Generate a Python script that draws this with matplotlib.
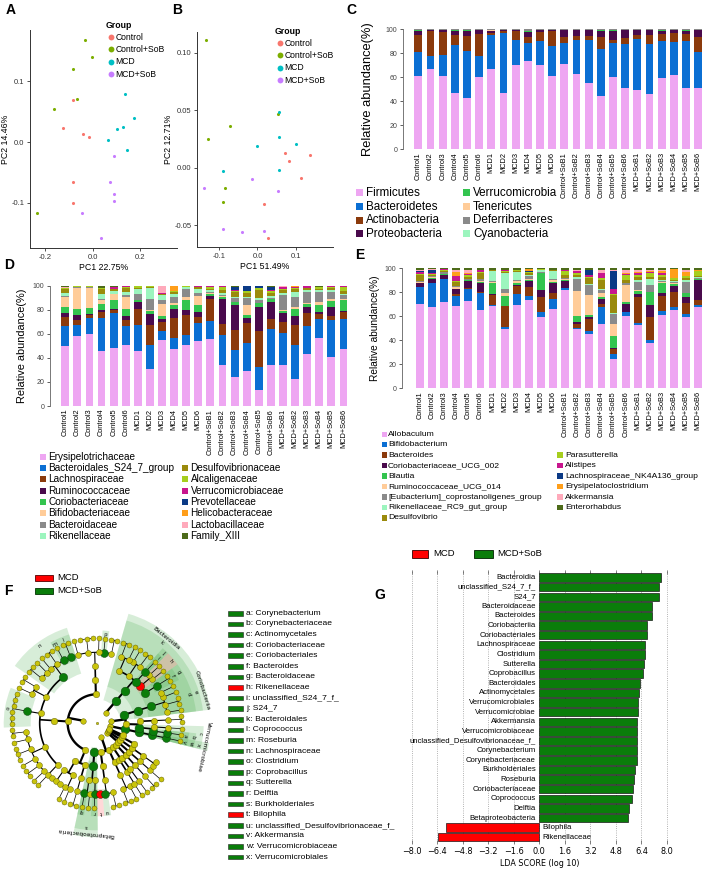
import numpy as np
import matplotlib.pyplot as plt
from matplotlib.patches import Rectangle, Wedge
from matplotlib.lines import Line2D

W, H = 708, 871
plt.rcParams['font.family'] = ['Liberation Sans', 'DejaVu Sans']

# ---------------- data ----------------
group_names = ["Control", "Control+SoB", "MCD", "MCD+SoB"]
group_colors = ["#F8766D", "#7CAE00", "#00BFC4", "#C77CFF"]

# PCoA panel A (unweighted)
a_control_x = [-0.084, -0.125, -0.041, -0.018, -0.084, -0.084]
a_control_y = [0.069, 0.023, 0.013, 0.008, -0.066, -0.100]
a_ctrlsob_x = [-0.032, -0.004, -0.083, -0.069, -0.166, -0.237]
a_ctrlsob_y = [0.167, 0.139, 0.120, 0.070, 0.054, -0.117]
a_mcd_x = [0.136, 0.175, 0.126, 0.101, 0.065, 0.143]
a_mcd_y = [0.079, 0.040, 0.025, 0.022, 0.003, -0.013]
a_mcdsob_x = [0.090, 0.072, 0.090, 0.087, -0.048, 0.035]
a_mcdsob_y = [-0.023, -0.066, -0.086, -0.097, -0.116, -0.158]

# PCoA panel B (weighted)
b_control_x = [0.017, 0.028, 0.072, 0.083, 0.136, 0.113]
b_control_y = [-0.032, -0.061, 0.0125, 0.006, 0.011, -0.009]
b_ctrlsob_x = [-0.133, -0.071, -0.128, -0.085, -0.089, 0.054]
b_ctrlsob_y = [0.111, 0.036, 0.025, -0.018, -0.030, 0.047]
b_mcd_x = [-0.089, -0.002, 0.056, 0.056, 0.057, 0.100]
b_mcd_y = [-0.003, 0.019, 0.048, 0.027, -0.002, 0.021]
b_mcdsob_x = [-0.139, -0.013, 0.054, -0.089, -0.040, 0.017]
b_mcdsob_y = [-0.018, -0.010, -0.020, -0.053, -0.056, -0.055]

samples = (["Control%d" % i for i in range(1, 7)] + ["MCD%d" % i for i in range(1, 7)]
           + ["Control+SoB%d" % i for i in range(1, 7)] + ["MCD+SoB%d" % i for i in range(1, 7)])

palette = ["#EEA6F2", "#0B6FD3", "#8B3A0C", "#4A0A4C", "#33C44F", "#FFCC99", "#8A8A8A",
           "#9CF5BE", "#9A8A0C", "#A6CE1E", "#C8168E", "#0B3A86", "#FF9E1A", "#FFAABB", "#4D6B1A"]

# Panel C: phylum level
phyla = ["Firmicutes", "Bacteroidetes", "Actinobacteria", "Proteobacteria",
         "Verrucomicrobia", "Tenericutes", "Deferribacteres", "Cyanobacteria"]
firmicutes = [61, 67, 61, 47, 43, 60, 67, 47, 70, 74, 70, 61, 71, 63, 56, 44, 60, 51, 49, 46, 59, 62, 51, 51]
bacteroidetes = [20, 11, 18, 40, 39, 18, 28, 50, 21, 15, 20, 25, 18, 28, 36, 39, 28, 37, 43, 42, 31, 28, 39, 30]
actinobacteria = [14, 21, 19, 8, 12, 18, 2, 1.5, 8, 5.5, 8, 13, 5, 3, 3, 9.5, 3, 5, 3, 7, 5, 7.5, 5.5, 12.5]
proteobacteria = [4, 1, 1.5, 4, 4, 3.5, 1.5, 1, 0.6, 4, 1.5, 0.6, 5.5, 5.5, 5, 5, 7.5, 6, 4, 4.5, 2.5, 2, 2.5, 6]
verrucomicrobia = [0.8, 0.3, 0.3, 0.8, 1.5, 0.3, 0.3, 0.2, 0.2, 0.3, 0.2, 0.2, 0.3, 0.2, 0.5, 1.2, 1, 0.6, 0.5, 0.3, 1.5, 0.5, 1.2, 0.3]
tenericutes = [0.1, 0.1, 0.1, 0.1, 0.1, 0.1, 1.0, 0.1, 0.1, 0.2, 0.1, 0.1, 0.1, 0.1, 0.1, 0.1, 0.1, 0.1, 0.1, 0.1, 0.1, 0.1, 0.1, 0.1]
deferribacteres = [0.1, 0.1, 0.1, 0.1, 0.1, 0.1, 0.1, 0.1, 0.1, 1.5, 0.1, 0.1, 0.1, 0.1, 0.1, 0.1, 0.1, 0.1, 0.1, 0.1, 0.1, 0.1, 0.1, 0.1]
cyanobacteria = [0.1] * 24
phylum_colors = ["#EEA6F2", "#0B6FD3", "#8B3A0C", "#4A0A4C", "#33C44F", "#FFCC99", "#8A8A8A", "#9CF5BE"]

# Panel D: family level
families = ["Erysipelotrichaceae", "Bacteroidales_S24_7_group", "Lachnospiraceae", "Ruminococcaceae",
            "Coriobacteriaceae", "Bifidobacteriaceae", "Bacteroidaceae", "Rikenellaceae",
            "Desulfovibrionaceae", "Alcaligenaceae", "Verrucomicrobiaceae", "Prevotellaceae",
            "Helicobacteraceae", "Lactobacillaceae", "Family_XIII"]
erysipelotrichaceae = [50, 58.5, 60, 46, 48, 51, 46, 31, 55, 47.5, 51, 53.5, 56, 34, 24, 29, 13.3, 34, 34, 22.4, 43, 57, 41, 47.4]
s24_7_group = [16.5, 9.5, 13, 27, 29, 15.5, 21.5, 20, 8, 9.5, 8.5, 15.5, 15.5, 25, 23, 23.5, 19.4, 30.5, 27, 28.3, 23.5, 15.6, 30.5, 25.6]
lachnospiraceae = [7.5, 4, 2.5, 5, 3, 5, 13.5, 17, 7, 16, 16.5, 5, 18, 9, 16, 16.5, 30.3, 8.5, 9, 16.6, 11, 4.4, 3.3, 5.4]
ruminococcaceae = [3, 4, 1.5, 2, 1, 3.5, 5.5, 9, 3, 8, 4.5, 3.5, 2.5, 21, 21, 4, 20, 13.7, 7.6, 7.7, 5, 1.4, 8.2, 1.1]
coriobacteriaceae = [5, 5.5, 5, 5, 7, 6, 1.5, 2, 2.5, 3, 8, 6.5, 2, 2, 2.7, 3, 3.7, 2.8, 2.2, 6, 2.5, 5.6, 5, 9.1]
bifidobacteriaceae = [9, 17.5, 16.5, 3, 5, 10, 0.5, 1, 9.5, 2, 3, 7.5, 0.3, 0.3, 0.3, 8, 0.3, 0.3, 0.3, 1.5, 1, 2.7, 1, 1]
bacteroidaceae = [0.5, 0.3, 0.3, 1, 0.5, 1.5, 5, 9, 3.5, 5, 6.5, 2.5, 1, 1.5, 2.8, 6, 2.5, 0.5, 13, 8.5, 9, 8.3, 6, 3]
rikenellaceae = [2.5, 0.3, 0.3, 4, 2, 2, 4, 9.5, 4.5, 2.5, 1.5, 3, 1.5, 1, 1, 1, 1.5, 1.5, 1, 4, 1.5, 1.5, 2, 1]
desulfovibrionaceae = [3, 0.3, 0.4, 4, 1.5, 3.5, 1, 0.5, 0.5, 1.5, 0.5, 1.5, 1.5, 3, 4, 3, 7, 3, 2.5, 2, 1.5, 1.5, 1.5, 2]
alcaligenaceae = [1, 0.3, 0.3, 1, 0.5, 1, 1, 1, 0.3, 1, 0.3, 0.5, 1.5, 2.5, 1, 1.5, 1, 1.5, 1.5, 1.5, 0.5, 1, 1, 4]
verrucomicrobiaceae = [0.5, 0.2, 0.2, 0.5, 1.5, 0.5, 0.2, 0.2, 0.2, 0.2, 0.2, 0.2, 0.5, 0.5, 0.5, 0.5, 0.2, 0.2, 1, 0.5, 1, 0.5, 0.5, 0.3]
prevotellaceae = [0, 0, 0, 0, 0, 0, 0, 0, 0, 0, 0, 0, 0, 0, 3, 3.5, 1.5, 3, 0.5, 0, 0, 0, 0, 0]
helicobacteraceae = [0, 0, 0, 0, 0, 0, 0, 0, 0, 3.5, 0, 0, 0, 0, 0, 0, 0, 0, 0, 0.5, 0, 0, 0, 0]
lactobacillaceae = [0.5, 0, 0, 0, 0, 0, 0, 0, 6, 0, 0, 0, 0, 0, 0, 0, 0, 0, 0.5, 0, 0, 0, 0, 0]
family_xiii = [1, 0.2, 0.3, 1.5, 1, 0.5, 0.3, 0.3, 0.5, 0.5, 0.3, 0.5, 0.5, 0.5, 1, 0.5, 0.5, 1, 0.5, 0.5, 0.5, 1, 0.5, 0.5]

# Panel E: genus level
genera = ["Allobaculum", "Bifidobacterium", "Bacteroides", "Coriobacteriaceae_UCG_002", "Blautia",
          "Ruminococcaceae_UCG_014", "[Eubacterium]_coprostanoligenes_group", "Rikenellaceae_RC9_gut_group",
          "Desulfovibrio", "Parasutterella", "Alistipes", "Lachnospiraceae_NK4A136_group",
          "Erysipelatoclostridium", "Akkermansia", "Enterorhabdus"]
allobaculum = [71, 68, 72, 68, 72, 65.3, 68.6, 49.2, 68.6, 73.6, 59.7, 65.3, 80, 48.6, 44.4, 51.4, 24.4, 59.7, 52.2, 37.5, 61, 65.3, 59.7, 67.2]
bifidobacterium = [14, 19.5, 19, 8.4, 9.4, 14.4, 0.8, 1.6, 9.2, 3.4, 3.9, 8.3, 1.4, 1.4, 2.8, 13.9, 3.4, 2.8, 1.1, 2.2, 3.7, 2.7, 2.3, 2.2]
bacteroides = [0.5, 0.5, 0.3, 1.4, 0.6, 0.8, 8.4, 17.2, 6.9, 7.7, 12.8, 5, 0.6, 2.8, 9.8, 2.7, 4.2, 0.6, 21.7, 18.6, 11.7, 12.5, 8.8, 4.2]
corio_ucg_002 = [3, 3.5, 3.5, 4, 6, 7, 1, 0.5, 0.6, 5, 5.6, 8.4, 5.5, 1.9, 1.3, 4, 1.3, 6.3, 2.8, 9.7, 2.6, 5.5, 5.6, 16.7]
blautia = [0.5, 0.5, 0.5, 0.5, 0.5, 1, 8.7, 7.9, 2.2, 1, 13.9, 1, 0.5, 5, 1.4, 1.5, 9.7, 1.6, 2.2, 10.6, 8.5, 1.4, 2.6, 0.5]
rumino_ucg_014 = [0.5, 0.5, 0.5, 1, 0.5, 1, 1.5, 2.6, 1.5, 1, 0.5, 1, 1, 20.8, 16.7, 3, 9.8, 13.7, 0.5, 0.5, 0.5, 0.5, 0.5, 0.5]
eubacterium_group = [1, 1, 1, 1, 1, 1.5, 0.5, 3, 0.5, 2.3, 0.5, 1, 0.5, 9.8, 7.6, 2.6, 8.2, 1.5, 7, 5.6, 1.5, 1, 9.4, 0.5]
rc9_gut_group = [0, 0, 0, 0, 0, 0.5, 8.5, 13.8, 6.8, 1, 1.5, 6.5, 0.5, 1, 1, 0.5, 0.5, 0, 1.5, 5, 0.5, 0.5, 1.5, 0.5]
desulfovibrio = [5, 1, 1.5, 3.7, 1, 4.5, 0.5, 0.5, 1, 1.5, 0.5, 1, 2.5, 2, 5, 7.5, 15, 3, 2.5, 1.5, 2.8, 1.5, 1.5, 1.5]
parasutterella = [1, 1, 0.5, 0.5, 2, 1, 0.5, 0.5, 0.5, 0.5, 0.5, 0.5, 3.5, 1.5, 0.5, 2, 0.5, 4, 1.5, 3.2, 1.5, 1, 1.5, 3.5]
alistipes = [1.5, 0.5, 0.5, 4.5, 1, 1.5, 0, 1.5, 0, 0.5, 0, 0, 0.5, 1.5, 2, 3.5, 4, 1, 1.5, 1, 2, 0, 0.5, 0.5]
nk4a136_group = [0.5, 3, 0.5, 0, 0, 0, 0, 0, 0.5, 1, 0, 0, 0.3, 0.5, 4, 0, 15.3, 0, 0, 0, 0, 0, 0, 0]
erysipelatoclostridium = [0.5, 0, 0, 3, 0.5, 0, 0, 0, 0, 1, 0, 0, 0, 0, 0, 0, 0, 1, 1, 1, 1, 7.5, 3, 0.5]
akkermansia = [0.5, 0.5, 0, 1.5, 2.5, 0, 0, 0, 0, 0, 0, 0, 0, 1, 0.5, 3, 1, 2.5, 2, 1, 1.5, 0.5, 2, 0.5]
enterorhabdus = [1.5, 0.5, 0.5, 1.5, 1.5, 1.5, 1, 1, 1, 1, 0.5, 1, 1, 1, 1, 1, 1, 1, 1, 1, 1, 0.5, 1, 1]

# Panel F/G: LEfSe
lefse_letters = list("abcdefghijklmnopqrstuvwx")
lefse_taxa = ["Corynebacterium", "Corynebacteriaceae", "Actinomycetales", "Coriobacteriaceae",
              "Coriobacteriales", "Bacteroides", "Bacteroidaceae", "Rikenellaceae", "unclassified_S24_7_f_",
              "S24_7", "Bacteroidales", "Coprococcus", "Roseburia", "Lachnospiraceae", "Clostridium",
              "Coprobacillus", "Sutterella", "Delftia", "Burkholderiales", "Bilophila",
              "unclassified_Desulfovibrionaceae_f_", "Akkermansia", "Verrucomicrobiaceae", "Verrucomicrobiales"]
mcd_taxa = ["Rikenellaceae", "Bilophila"]
class_taxa = ["Verrucomicrobiae", "Coriobacteriia", "Bacteroidia", "Betaproteobacteria"]

lda_taxa = ["Bacteroidia", "unclassified_S24_7_f_", "S24_7", "Bacteroidaceae", "Bacteroides",
            "Coriobacteriia", "Coriobacteriales", "Lachnospiraceae", "Clostridium", "Sutterella",
            "Coprobacillus", "Bacteroidales", "Actinomycetales", "Verrucomicrobiales", "Verrucomicrobiae",
            "Akkermansia", "Verrucomicrobiaceae", "unclassified_Desulfovibrionaceae_f_", "Corynebacterium",
            "Corynebacteriaceae", "Burkholderiales", "Roseburia", "Coriobacteriaceae", "Coprococcus",
            "Delftia", "Betaproteobacteria", "Bilophila", "Rikenellaceae"]
lda_scores = [7.6, 7.52, 7.52, 7.05, 7.05, 6.73, 6.73, 6.65, 6.63, 6.56, 6.52, 6.33, 6.27, 6.17, 6.17,
              6.15, 6.14, 6.14, 6.10, 6.10, 6.02, 5.96, 5.85, 5.83, 5.60, 5.56, -5.85, -6.37]
lda_ticks = [-8.0, -6.4, -4.8, -3.2, -1.6, 0.0, 1.6, 3.2, 4.8, 6.4, 8.0]

GREEN = "#0A7D0A"
RED = "#FF0000"
YELLOW = "#C9C40C"

# ---------------- helpers ----------------
fig = plt.figure(figsize=(W / 100, H / 100), dpi=100)


def px_axes(l, t, r, b):
    return fig.add_axes([l / W, 1 - b / H, (r - l) / W, (b - t) / H])


def ftext(x, y, s, **kw):
    fig.text(x / W, 1 - y / H, s, **kw)


def fbox(x, y, w, h, fc, ec="none", lw=0.6):
    fig.add_artist(Rectangle((x / W, 1 - (y + h) / H), w / W, h / H, transform=fig.transFigure,
                             fc=fc, ec=ec, lw=lw))


def fdot(x, y, c, ms=4.2):
    fig.add_artist(Line2D([x / W], [1 - y / H], marker="o", ms=ms, color=c, mec="none",
                          transform=fig.transFigure))


def legend_block(xb, xt, y0, dy, names, colors, fs, box=6.5, start=0):
    for i, (n, c) in enumerate(zip(names, colors)):
        y = y0 + (i + start) * dy
        fbox(xb, y - box / 2, box, box, c)
        ftext(xt, y, n, fontsize=fs, va="center", ha="left")


def panel_label(x, y, s):
    ftext(x, y, s, fontsize=10, fontweight="bold", va="center", ha="left")


# ---------------- A / B ----------------
def pcoa(ax, groups, xlim, ylim, xt, yt, fmt, xl, yl):
    for (xs, ys), c in zip(groups, group_colors):
        ax.scatter(xs, ys, s=5, color=c, lw=0, zorder=3)
    ax.set_xlim(*xlim)
    ax.set_ylim(*ylim)
    ax.set_xticks(xt)
    ax.set_yticks(yt)
    ax.set_xticklabels([fmt % v for v in xt])
    ax.set_yticklabels([fmt % v for v in yt])
    for s in ["top", "right"]:
        ax.spines[s].set_visible(False)
    for s in ["left", "bottom"]:
        ax.spines[s].set_color("#333333")
        ax.spines[s].set_linewidth(0.7)
    ax.tick_params(labelsize=5.5, length=2.5, width=0.6, colors="#333333", pad=1.5)
    ax.set_xlabel(xl, fontsize=6.3, labelpad=1.5)
    ax.set_ylabel(yl, fontsize=6.3, labelpad=1)


axA = px_axes(30, 30, 177, 248)
pcoa(axA, [(a_control_x, a_control_y), (a_ctrlsob_x, a_ctrlsob_y), (a_mcd_x, a_mcd_y), (a_mcdsob_x, a_mcdsob_y)],
     (-0.265, 0.354), (-0.174, 0.184), [-0.2, 0.0, 0.2], [-0.1, 0.0, 0.1], "%.1f", "PC1 22.75%", "PC2 14.46%")
axB = px_axes(197, 32, 333, 247)
pcoa(axB, [(b_control_x, b_control_y), (b_ctrlsob_x, b_ctrlsob_y), (b_mcd_x, b_mcd_y), (b_mcdsob_x, b_mcdsob_y)],
     (-0.157, 0.196), (-0.069, 0.118), [-0.1, 0.0, 0.1], [-0.05, 0.0, 0.05, 0.10], "%.2f",
     "PC1 51.49%", "PC2 12.71%")
axB.set_xticklabels(["-0.1", "0.0", "0.1"])

for gx, gy in [(106, 25), (275, 31)]:
    ftext(gx, gy, "Group", fontsize=6.3, fontweight="bold", va="center")
    for i, (n, c) in enumerate(zip(group_names, group_colors)):
        y = gy + 12 + i * 12.4
        fdot(gx + 4.5, y, c)
        ftext(gx + 9.5, y, n, fontsize=6.2, va="center")

panel_label(6, 10, "A")
panel_label(172, 10, "B")


# ---------------- stacked bars ----------------
def stacked(ax, series, colors, ylab, ylab_x, ylab_fs, xlim):
    data = np.array(series, dtype=float)
    data = data / data.sum(axis=0) * 100
    x = np.arange(data.shape[1])
    bottom = np.zeros(data.shape[1])
    for vals, c in zip(data, colors):
        ax.bar(x, vals, 0.65, bottom=bottom, color=c, linewidth=0)
        bottom += vals
    ax.set_xlim(*xlim)
    ax.set_ylim(0, 100)
    ax.set_xticks(x)
    ax.set_xticklabels(samples, rotation=90, fontsize=5.3)
    ax.tick_params(axis="x", length=0, pad=2)
    ax.set_yticks([0, 20, 40, 60, 80, 100])
    ax.tick_params(axis="y", labelsize=5, length=2.5, width=0.6, colors="#444444", pad=1.5)
    for s in ["top", "right", "bottom"]:
        ax.spines[s].set_visible(False)
    ax.spines["left"].set_color("#777777")
    ax.spines["left"].set_linewidth(0.7)
    ax.set_ylabel(ylab, fontsize=ylab_fs)
    ax.yaxis.set_label_coords(ylab_x, 0.5)


axC = px_axes(403, 29.3, 705, 149.3)
stacked(axC, [firmicutes, bacteroidetes, actinobacteria, proteobacteria, verrucomicrobia,
              tenericutes, deferribacteres, cyanobacteria], phylum_colors,
        "Relative abundance(%)", -0.097, 9.3, (-1.26, 23.56))
legend_block(356, 366, 193, 13.6, phyla[:4], phylum_colors[:4], 8.4, box=7)
legend_block(463, 473, 193, 13.6, phyla[4:], phylum_colors[4:], 8.4, box=7)
panel_label(346, 10, "C")

axD = px_axes(50, 285.7, 350, 406)
stacked(axD, [erysipelotrichaceae, s24_7_group, lachnospiraceae, ruminococcaceae, coriobacteriaceae,
              bifidobacteriaceae, bacteroidaceae, rikenellaceae, desulfovibrionaceae, alcaligenaceae,
              verrucomicrobiaceae, prevotellaceae, helicobacteraceae, lactobacillaceae, family_xiii],
        palette, "Relative abundance(%)", -0.078, 7.9, (-1.26, 23.54))
legend_block(40, 48.5, 456.7, 11.35, families[:8], palette[:8], 7.2, box=6)
legend_block(182, 190.5, 456.7, 11.35, families[8:], palette[8:], 7.2, box=6, start=1)
panel_label(4, 265, "D")

axE = px_axes(401.7, 268.3, 705, 388.3)
stacked(axE, [allobaculum, bifidobacterium, bacteroides, corio_ucg_002, blautia, rumino_ucg_014,
              eubacterium_group, rc9_gut_group, desulfovibrio, parasutterella, alistipes, nk4a136_group,
              erysipelatoclostridium, akkermansia, enterorhabdus],
        palette, "Relative abundance(%)", -0.072, 7.3, (-1.51, 23.56))
legend_block(381.5, 388, 434.3, 10.45, genera[:9], palette[:9], 6.1, box=5.5)
legend_block(557, 565, 434.3, 10.45, genera[9:], palette[9:], 6.1, box=5.5, start=2)
panel_label(355, 255, "E")


# ---------------- F: cladogram ----------------
def T(name, *kids):
    ch = []
    for k in kids:
        if isinstance(k, int):
            ch.extend(("", []) for _ in range(k))
        else:
            ch.append(k)
    return (name, ch)


tree = T("Bacteria",
         T("Verrucomicrobia", T("Verrucomicrobiae", T("Verrucomicrobiales",
                                                       T("Verrucomicrobiaceae", T("Akkermansia", 1))))),
         T("Actinobacteria",
           T("", T("Actinomycetales", T("Corynebacteriaceae", T("Corynebacterium", 1)), T("", T("", 1))),
             T("", T("", T("", 2)))),
           T("Coriobacteriia", T("Coriobacteriales", T("Coriobacteriaceae", T("", 1), T("", 2), T("", 1), T("", 1))))),
         T("Bacteroidetes", T("Bacteroidia", T("Bacteroidales",
                                               T("Bacteroidaceae", T("Bacteroides", 2)),
                                               T("Rikenellaceae", T("", 1), T("", 1)),
                                               T("S24_7", T("unclassified_S24_7_f_", 1)),
                                               T("", T("", 2), T("", 1)),
                                               T("", T("", 1), T("", 2))))),
         T("Firmicutes",
           T("", T("", T("", T("", 2), T("Coprobacillus", 1), T("", 1), T("", 3), T("", 1)))),
           T("", T("",
                   T("Lachnospiraceae", T("Coprococcus", 2), T("Roseburia", 1), T("", 2), T("", 1), T("", 1), T("", 2)),
                   T("", T("", 2), T("", 1)),
                   T("Clostridiaceae", T("Clostridium", 6)),
                   T("", T("", 2), T("", 1), T("", 3), T("", 1), T("", 2), T("", 1)),
                   T("", T("", 1)))),
           T("", T("", T("", 3), T("", T("", 1), T("", 1))), T("", T("", T("", 2))))),
         T("Proteobacteria",
           T("Betaproteobacteria", T("Burkholderiales", T("", T("Sutterella", 1), T("", 1)), T("", T("Delftia", 1)))),
           T("", T("", T("", T("Bilophila"), T("unclassified_Desulfovibrionaceae_f_"), T("", 2)))),
           T("", T("", T("", T("", 2), T("", 1)))),
           T("", T("", T("", T("", 1))), T("", T("", T("", 1)))),
           T("", T("", T("", T("", 2))))),
         T("", T("", T("", T("", T("", 1))))),
         T("", T("", T("", T("", 2)))),
         T("", T("", 1)),
         T("", 1))

nodes = []


def walk(node, depth, parent):
    name, kids = node
    i = len(nodes)
    nodes.append({"name": name, "depth": depth, "kids": []})
    if parent is not None:
        nodes[parent]["kids"].append(i)
    for k in kids:
        walk(k, depth + 1, i)


walk(tree, 0, None)
leaf_ids = [i for i, n in enumerate(nodes) if not n["kids"]]
step = 360.0 / (len(leaf_ids) + 2)
for j, i in enumerate(leaf_ids):
    nodes[i]["ang"] = -12 + j * step
    nodes[i]["lo"] = nodes[i]["hi"] = nodes[i]["ang"]
for n in reversed(nodes):
    if n["kids"]:
        ka = [nodes[k]["ang"] for k in n["kids"]]
        n["ang"] = (min(ka) + max(ka)) / 2
        n["lo"] = min(nodes[k]["lo"] for k in n["kids"])
        n["hi"] = max(nodes[k]["hi"] for k in n["kids"])

axF = px_axes(0, 600, 215, 871)
axF.set_xlim(0, 215)
axF.set_ylim(0, 271)
axF.axis("off")
cx, cy = 96.7, 147.7
radii = [0, 14, 29, 43, 57, 71, 85]
edge_lw = [0, 1.7, 1.5, 1.2, 0.8, 0.5]
outer_r = {2: 114, 3: 107, 4: 100, 5: 93}
letter_of = dict(zip(lefse_taxa, lefse_letters))


def pol(r, a):
    a = np.radians(a)
    return cx + r * np.cos(a), cy + r * np.sin(a)


for n in nodes:
    name, d = n["name"], n["depth"]
    if name in letter_of or name in class_taxa:
        red = name in mcd_taxa
        r_in = radii[d] - 5
        r_out = outer_r[d]
        axF.add_patch(Wedge((cx, cy), r_out, n["lo"] - step / 2, n["hi"] + step / 2, width=r_out - r_in,
                            fc="#FF8080" if red else "#4CAF50", alpha=0.3 if red else 0.22, ec="none", zorder=1))
        mid = (n["lo"] + n["hi"]) / 2
        if name in class_taxa:
            tx, ty = pol(r_out - 4, mid)
            axF.text(tx, ty, name, fontsize=4.2, rotation=mid - 90, rotation_mode="anchor",
                     ha="center", va="center", family="DejaVu Sans", zorder=5)
        else:
            tx, ty = pol(r_out - 3.5, mid)
            axF.text(tx, ty, letter_of[name], fontsize=3.8, rotation=mid - 90, ha="center", va="center",
                     family="DejaVu Sans", zorder=5)

for n in nodes:
    d = n["depth"]
    if n["kids"] and d >= 1:
        x0, y0 = pol(radii[d], n["ang"])
        x1, y1 = pol(radii[d + 1], n["ang"])
        axF.plot([x0, x1], [y0, y1], color="black", lw=edge_lw[d], zorder=2, solid_capstyle="butt")
        ka = [nodes[k]["ang"] for k in n["kids"]]
        ax_, ay_ = pol(radii[d + 1], np.linspace(min(ka), max(ka), 60))
        axF.plot(ax_, ay_, color="black", lw=edge_lw[d], zorder=2)

node_size = [3, 16, 22, 22, 20, 18, 13]
for n in nodes:
    d = n["depth"]
    x, y = pol(radii[d], n["ang"])
    if n["name"] in mcd_taxa:
        c, s = RED, node_size[d] * 1.8
    elif n["name"] in letter_of or n["name"] in class_taxa:
        c, s = GREEN, node_size[d] * 1.8
    else:
        c, s = YELLOW, node_size[d]
    axF.scatter([x], [y], s=s, color=c, edgecolors="#555500" if c == YELLOW else "#0b3b0b", linewidths=0.3,
                zorder=3)

fbox(35, 575, 18, 5.5, RED, ec="#550000", lw=0.6)
ftext(57, 577.8, "MCD", fontsize=6.8, va="center")
fbox(35, 588, 18, 5.5, GREEN, ec="#003300", lw=0.6)
ftext(57, 590.8, "MCD+SoB", fontsize=6.8, va="center")
panel_label(4, 591, "F")

for i, (l, t) in enumerate(zip(lefse_letters, lefse_taxa)):
    y = 613.3 + i * 10.6
    fbox(228, y - 2.3, 15, 4.6, RED if t in mcd_taxa else GREEN, ec="#222222", lw=0.4)
    ftext(246.5, y, "%s: %s" % (l, t), fontsize=6.1, va="center")

# ---------------- G: LDA ----------------
axG = px_axes(395.7, 569.8, 682.9, 844)
yy = np.arange(len(lda_taxa))
cols = [GREEN if v > 0 else RED for v in lda_scores]
axG.barh(yy, lda_scores, height=0.88, color=cols, edgecolor="#1a1a1a", linewidth=0.5, zorder=3)
for yv, t, v in zip(yy, lda_taxa, lda_scores):
    if v > 0:
        axG.text(-0.22, yv, t, ha="right", va="center", fontsize=5.6, zorder=4)
    else:
        axG.text(0.22, yv, t, ha="left", va="center", fontsize=5.6, zorder=4)
axG.set_xlim(-9, 9)
axG.set_ylim(len(lda_taxa) - 0.3, -0.8)
axG.set_yticks([])
axG.set_xticks(lda_ticks)
axG.set_xticklabels([("%.1f" % v).replace("-", "\u2212") for v in lda_ticks], family="DejaVu Sans")
axG.tick_params(axis="x", labelsize=5.9, top=True, bottom=True, length=3, width=0.5, color="#555555",
                direction="in", pad=2)
axG.grid(axis="x", ls=":", color="#9a9a9a", lw=0.6, zorder=0)
for s in axG.spines.values():
    s.set_visible(False)
axG.set_xlabel("LDA SCORE (log 10)", fontsize=5.8, family="DejaVu Sans", labelpad=2)

fbox(412, 550, 16, 8, RED, ec="#330000", lw=0.6)
ftext(433, 554, "MCD", fontsize=6.8, va="center")
fbox(474, 550, 19, 8, GREEN, ec="#002200", lw=0.6)
ftext(497, 554, "MCD+SoB", fontsize=6.8, va="center")
panel_label(374, 595, "G")

fig.savefig("out.png", dpi=100)
